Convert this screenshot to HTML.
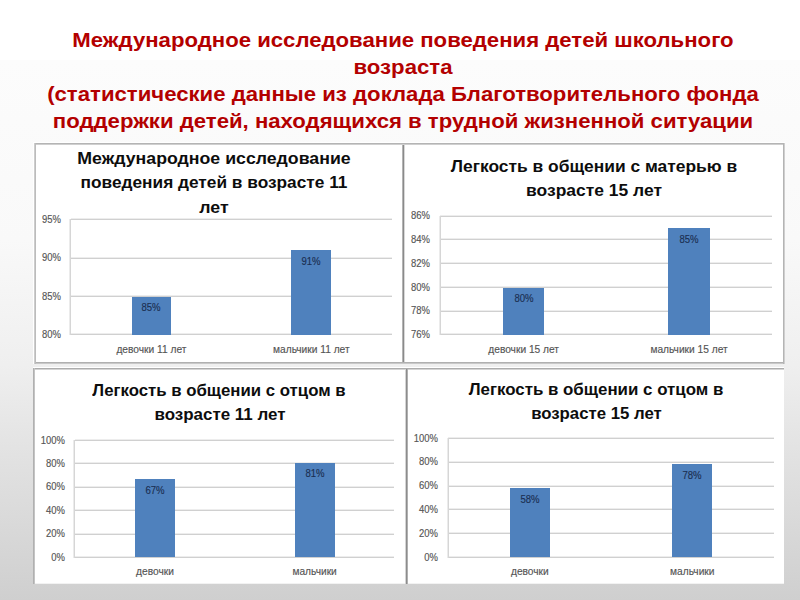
<!DOCTYPE html>
<html><head><meta charset="utf-8"><title>slide</title>
<style>
html,body{margin:0;padding:0;}
body{width:800px;height:600px;position:relative;overflow:hidden;background:linear-gradient(to bottom, #ffffff 0px, #ffffff 60px, #fcfcfc 60px, #f9f9f9 240px, #efefef 365px, #e4e4e4 440px, #cfcfcf 600px);font-family:"Liberation Sans", sans-serif;}
</style></head><body>
<div style="position:absolute;left:33.00px;top:142.00px;width:752.00px;height:222.00px;background:#fff;"></div>
<div style="position:absolute;left:33.00px;top:367.00px;width:751.00px;height:217.00px;background:#fff;"></div>
<div style="position:absolute;left:33.00px;top:583.00px;width:751.00px;height:1.00px;background:#f2f2f2;"></div>
<div style="position:absolute;left:34.00px;top:143.00px;width:751.00px;height:1.00px;background:#b4b4b4;"></div>
<div style="position:absolute;left:34.00px;top:144.00px;width:751.00px;height:1.00px;background:#cfcfcf;"></div>
<div style="position:absolute;left:34.00px;top:362.00px;width:751.00px;height:1.00px;background:#b0b0b0;"></div>
<div style="position:absolute;left:34.00px;top:363.00px;width:751.00px;height:1.00px;background:#c8c8c8;"></div>
<div style="position:absolute;left:34.00px;top:143.00px;width:1.00px;height:221.00px;background:#cdcdcd;"></div>
<div style="position:absolute;left:35.00px;top:143.00px;width:1.00px;height:221.00px;background:#bcbcbc;"></div>
<div style="position:absolute;left:783.00px;top:143.00px;width:1.00px;height:221.00px;background:#b4b4b4;"></div>
<div style="position:absolute;left:784.00px;top:143.00px;width:1.00px;height:221.00px;background:#cfcfcf;"></div>
<div style="position:absolute;left:402.00px;top:145.00px;width:1.00px;height:217.00px;background:#b4b4b4;"></div>
<div style="position:absolute;left:403.00px;top:145.00px;width:1.00px;height:217.00px;background:#8a8a8a;"></div>
<div style="position:absolute;left:404.00px;top:145.00px;width:1.00px;height:217.00px;background:#d8d8d8;"></div>
<div style="position:absolute;left:33.00px;top:368.00px;width:751.00px;height:1.00px;background:#acacac;"></div>
<div style="position:absolute;left:33.00px;top:369.00px;width:751.00px;height:1.00px;background:#d4d4d4;"></div>
<div style="position:absolute;left:33.00px;top:368.00px;width:1.00px;height:216.00px;background:#b0b0b0;"></div>
<div style="position:absolute;left:34.00px;top:368.00px;width:1.00px;height:216.00px;background:#c4c4c4;"></div>
<div style="position:absolute;left:405.00px;top:369.00px;width:1.00px;height:215.00px;background:#d4d4d4;"></div>
<div style="position:absolute;left:406.00px;top:369.00px;width:1.00px;height:215.00px;background:#8c8c8c;"></div>
<div style="position:absolute;left:407.00px;top:369.00px;width:1.00px;height:215.00px;background:#b0b0b0;"></div>
<div style="position:absolute;left:71.00px;top:219.00px;width:321.00px;height:1.00px;background:#d0d0d0;box-shadow:0 -1px 0 #ededed;"></div>
<div style="position:absolute;left:71.00px;top:258.00px;width:321.00px;height:1.00px;background:#d0d0d0;box-shadow:0 -1px 0 #ededed;"></div>
<div style="position:absolute;left:71.00px;top:296.00px;width:321.00px;height:1.00px;background:#d0d0d0;box-shadow:0 -1px 0 #ededed;"></div>
<div style="position:absolute;left:71.00px;top:334.00px;width:321.00px;height:1.00px;background:#d0d0d0;box-shadow:0 -1px 0 #ededed;"></div>
<div style="position:absolute;left:70.00px;top:219.00px;width:1.00px;height:116.00px;background:#d6d6d6;box-shadow:-1px 0 0 #ebebeb;"></div>
<div style="position:absolute;left:-739.30px;top:214.95px;width:800px;text-align:right;font-size:10.3px;line-height:10.3px;font-weight:normal;color:#555555;white-space:nowrap;transform:scaleX(0.92);transform-origin:100% 50%;-webkit-text-stroke:0.15px #555555;">95%</div>
<div style="position:absolute;left:-739.30px;top:253.38px;width:800px;text-align:right;font-size:10.3px;line-height:10.3px;font-weight:normal;color:#555555;white-space:nowrap;transform:scaleX(0.92);transform-origin:100% 50%;-webkit-text-stroke:0.15px #555555;">90%</div>
<div style="position:absolute;left:-739.30px;top:291.81px;width:800px;text-align:right;font-size:10.3px;line-height:10.3px;font-weight:normal;color:#555555;white-space:nowrap;transform:scaleX(0.92);transform-origin:100% 50%;-webkit-text-stroke:0.15px #555555;">85%</div>
<div style="position:absolute;left:-739.30px;top:330.25px;width:800px;text-align:right;font-size:10.3px;line-height:10.3px;font-weight:normal;color:#555555;white-space:nowrap;transform:scaleX(0.92);transform-origin:100% 50%;-webkit-text-stroke:0.15px #555555;">80%</div>
<div style="position:absolute;left:131.50px;top:296.50px;width:39.80px;height:38.50px;background:#4f81bd;"></div>
<div style="position:absolute;left:-248.60px;top:303.49px;width:800px;text-align:center;font-size:10.3px;line-height:10.3px;font-weight:normal;color:#1b2f52;white-space:nowrap;transform:scaleX(0.93);transform-origin:50% 50%;-webkit-text-stroke:0.15px #1b2f52;">85%</div>
<div style="position:absolute;left:-248.60px;top:344.87px;width:800px;text-align:center;font-size:10.2px;line-height:10.2px;font-weight:normal;color:#555555;white-space:nowrap;-webkit-text-stroke:0.15px #555555;">девочки 11 лет</div>
<div style="position:absolute;left:291.30px;top:250.40px;width:40.00px;height:84.60px;background:#4f81bd;"></div>
<div style="position:absolute;left:-88.70px;top:257.39px;width:800px;text-align:center;font-size:10.3px;line-height:10.3px;font-weight:normal;color:#1b2f52;white-space:nowrap;transform:scaleX(0.93);transform-origin:50% 50%;-webkit-text-stroke:0.15px #1b2f52;">91%</div>
<div style="position:absolute;left:-88.70px;top:344.87px;width:800px;text-align:center;font-size:10.2px;line-height:10.2px;font-weight:normal;color:#555555;white-space:nowrap;-webkit-text-stroke:0.15px #555555;">мальчики 11 лет</div>
<div style="position:absolute;left:440.40px;top:216.00px;width:331.70px;height:1.00px;background:#d0d0d0;box-shadow:0 -1px 0 #ededed;"></div>
<div style="position:absolute;left:440.40px;top:239.00px;width:331.70px;height:1.00px;background:#d0d0d0;box-shadow:0 -1px 0 #ededed;"></div>
<div style="position:absolute;left:440.40px;top:263.00px;width:331.70px;height:1.00px;background:#d0d0d0;box-shadow:0 -1px 0 #ededed;"></div>
<div style="position:absolute;left:440.40px;top:287.00px;width:331.70px;height:1.00px;background:#d0d0d0;box-shadow:0 -1px 0 #ededed;"></div>
<div style="position:absolute;left:440.40px;top:311.00px;width:331.70px;height:1.00px;background:#d0d0d0;box-shadow:0 -1px 0 #ededed;"></div>
<div style="position:absolute;left:440.40px;top:334.00px;width:331.70px;height:1.00px;background:#d0d0d0;box-shadow:0 -1px 0 #ededed;"></div>
<div style="position:absolute;left:440.00px;top:216.00px;width:1.00px;height:119.00px;background:#d6d6d6;box-shadow:-1px 0 0 #ebebeb;"></div>
<div style="position:absolute;left:-369.70px;top:211.25px;width:800px;text-align:right;font-size:10.3px;line-height:10.3px;font-weight:normal;color:#555555;white-space:nowrap;transform:scaleX(0.92);transform-origin:100% 50%;-webkit-text-stroke:0.15px #555555;">86%</div>
<div style="position:absolute;left:-369.70px;top:235.01px;width:800px;text-align:right;font-size:10.3px;line-height:10.3px;font-weight:normal;color:#555555;white-space:nowrap;transform:scaleX(0.92);transform-origin:100% 50%;-webkit-text-stroke:0.15px #555555;">84%</div>
<div style="position:absolute;left:-369.70px;top:258.77px;width:800px;text-align:right;font-size:10.3px;line-height:10.3px;font-weight:normal;color:#555555;white-space:nowrap;transform:scaleX(0.92);transform-origin:100% 50%;-webkit-text-stroke:0.15px #555555;">82%</div>
<div style="position:absolute;left:-369.70px;top:282.53px;width:800px;text-align:right;font-size:10.3px;line-height:10.3px;font-weight:normal;color:#555555;white-space:nowrap;transform:scaleX(0.92);transform-origin:100% 50%;-webkit-text-stroke:0.15px #555555;">80%</div>
<div style="position:absolute;left:-369.70px;top:306.29px;width:800px;text-align:right;font-size:10.3px;line-height:10.3px;font-weight:normal;color:#555555;white-space:nowrap;transform:scaleX(0.92);transform-origin:100% 50%;-webkit-text-stroke:0.15px #555555;">78%</div>
<div style="position:absolute;left:-369.70px;top:330.05px;width:800px;text-align:right;font-size:10.3px;line-height:10.3px;font-weight:normal;color:#555555;white-space:nowrap;transform:scaleX(0.92);transform-origin:100% 50%;-webkit-text-stroke:0.15px #555555;">76%</div>
<div style="position:absolute;left:503.40px;top:287.50px;width:40.50px;height:47.30px;background:#4f81bd;"></div>
<div style="position:absolute;left:123.65px;top:294.49px;width:800px;text-align:center;font-size:10.3px;line-height:10.3px;font-weight:normal;color:#1b2f52;white-space:nowrap;transform:scaleX(0.93);transform-origin:50% 50%;-webkit-text-stroke:0.15px #1b2f52;">80%</div>
<div style="position:absolute;left:123.65px;top:344.87px;width:800px;text-align:center;font-size:10.2px;line-height:10.2px;font-weight:normal;color:#555555;white-space:nowrap;-webkit-text-stroke:0.15px #555555;">девочки 15 лет</div>
<div style="position:absolute;left:668.40px;top:227.80px;width:41.30px;height:107.00px;background:#4f81bd;"></div>
<div style="position:absolute;left:289.05px;top:234.79px;width:800px;text-align:center;font-size:10.3px;line-height:10.3px;font-weight:normal;color:#1b2f52;white-space:nowrap;transform:scaleX(0.93);transform-origin:50% 50%;-webkit-text-stroke:0.15px #1b2f52;">85%</div>
<div style="position:absolute;left:289.05px;top:344.87px;width:800px;text-align:center;font-size:10.2px;line-height:10.2px;font-weight:normal;color:#555555;white-space:nowrap;-webkit-text-stroke:0.15px #555555;">мальчики 15 лет</div>
<div style="position:absolute;left:74.50px;top:440.00px;width:319.70px;height:1.00px;background:#d0d0d0;box-shadow:0 -1px 0 #ededed;"></div>
<div style="position:absolute;left:74.50px;top:463.00px;width:319.70px;height:1.00px;background:#d0d0d0;box-shadow:0 -1px 0 #ededed;"></div>
<div style="position:absolute;left:74.50px;top:487.00px;width:319.70px;height:1.00px;background:#d0d0d0;box-shadow:0 -1px 0 #ededed;"></div>
<div style="position:absolute;left:74.50px;top:510.00px;width:319.70px;height:1.00px;background:#d0d0d0;box-shadow:0 -1px 0 #ededed;"></div>
<div style="position:absolute;left:74.50px;top:534.00px;width:319.70px;height:1.00px;background:#d0d0d0;box-shadow:0 -1px 0 #ededed;"></div>
<div style="position:absolute;left:74.50px;top:557.00px;width:319.70px;height:1.00px;background:#d0d0d0;box-shadow:0 -1px 0 #ededed;"></div>
<div style="position:absolute;left:74.00px;top:440.00px;width:1.00px;height:118.00px;background:#d6d6d6;box-shadow:-1px 0 0 #ebebeb;"></div>
<div style="position:absolute;left:-735.20px;top:435.65px;width:800px;text-align:right;font-size:10.3px;line-height:10.3px;font-weight:normal;color:#555555;white-space:nowrap;transform:scaleX(0.92);transform-origin:100% 50%;-webkit-text-stroke:0.15px #555555;">100%</div>
<div style="position:absolute;left:-735.20px;top:459.05px;width:800px;text-align:right;font-size:10.3px;line-height:10.3px;font-weight:normal;color:#555555;white-space:nowrap;transform:scaleX(0.92);transform-origin:100% 50%;-webkit-text-stroke:0.15px #555555;">80%</div>
<div style="position:absolute;left:-735.20px;top:482.45px;width:800px;text-align:right;font-size:10.3px;line-height:10.3px;font-weight:normal;color:#555555;white-space:nowrap;transform:scaleX(0.92);transform-origin:100% 50%;-webkit-text-stroke:0.15px #555555;">60%</div>
<div style="position:absolute;left:-735.20px;top:505.85px;width:800px;text-align:right;font-size:10.3px;line-height:10.3px;font-weight:normal;color:#555555;white-space:nowrap;transform:scaleX(0.92);transform-origin:100% 50%;-webkit-text-stroke:0.15px #555555;">40%</div>
<div style="position:absolute;left:-735.20px;top:529.25px;width:800px;text-align:right;font-size:10.3px;line-height:10.3px;font-weight:normal;color:#555555;white-space:nowrap;transform:scaleX(0.92);transform-origin:100% 50%;-webkit-text-stroke:0.15px #555555;">20%</div>
<div style="position:absolute;left:-735.20px;top:552.65px;width:800px;text-align:right;font-size:10.3px;line-height:10.3px;font-weight:normal;color:#555555;white-space:nowrap;transform:scaleX(0.92);transform-origin:100% 50%;-webkit-text-stroke:0.15px #555555;">0%</div>
<div style="position:absolute;left:135.10px;top:479.00px;width:39.70px;height:78.40px;background:#4f81bd;"></div>
<div style="position:absolute;left:-245.05px;top:485.99px;width:800px;text-align:center;font-size:10.3px;line-height:10.3px;font-weight:normal;color:#1b2f52;white-space:nowrap;transform:scaleX(0.93);transform-origin:50% 50%;-webkit-text-stroke:0.15px #1b2f52;">67%</div>
<div style="position:absolute;left:-245.05px;top:566.87px;width:800px;text-align:center;font-size:10.2px;line-height:10.2px;font-weight:normal;color:#555555;white-space:nowrap;-webkit-text-stroke:0.15px #555555;">девочки</div>
<div style="position:absolute;left:294.50px;top:462.50px;width:40.20px;height:94.90px;background:#4f81bd;"></div>
<div style="position:absolute;left:-85.40px;top:469.49px;width:800px;text-align:center;font-size:10.3px;line-height:10.3px;font-weight:normal;color:#1b2f52;white-space:nowrap;transform:scaleX(0.93);transform-origin:50% 50%;-webkit-text-stroke:0.15px #1b2f52;">81%</div>
<div style="position:absolute;left:-85.40px;top:566.87px;width:800px;text-align:center;font-size:10.2px;line-height:10.2px;font-weight:normal;color:#555555;white-space:nowrap;-webkit-text-stroke:0.15px #555555;">мальчики</div>
<div style="position:absolute;left:448.20px;top:438.00px;width:325.40px;height:1.00px;background:#d0d0d0;box-shadow:0 -1px 0 #ededed;"></div>
<div style="position:absolute;left:448.20px;top:462.00px;width:325.40px;height:1.00px;background:#d0d0d0;box-shadow:0 -1px 0 #ededed;"></div>
<div style="position:absolute;left:448.20px;top:486.00px;width:325.40px;height:1.00px;background:#d0d0d0;box-shadow:0 -1px 0 #ededed;"></div>
<div style="position:absolute;left:448.20px;top:509.00px;width:325.40px;height:1.00px;background:#d0d0d0;box-shadow:0 -1px 0 #ededed;"></div>
<div style="position:absolute;left:448.20px;top:533.00px;width:325.40px;height:1.00px;background:#d0d0d0;box-shadow:0 -1px 0 #ededed;"></div>
<div style="position:absolute;left:448.20px;top:557.00px;width:325.40px;height:1.00px;background:#d0d0d0;box-shadow:0 -1px 0 #ededed;"></div>
<div style="position:absolute;left:448.00px;top:438.00px;width:1.00px;height:120.00px;background:#d6d6d6;box-shadow:-1px 0 0 #ebebeb;"></div>
<div style="position:absolute;left:-361.80px;top:433.65px;width:800px;text-align:right;font-size:10.3px;line-height:10.3px;font-weight:normal;color:#555555;white-space:nowrap;transform:scaleX(0.92);transform-origin:100% 50%;-webkit-text-stroke:0.15px #555555;">100%</div>
<div style="position:absolute;left:-361.80px;top:457.45px;width:800px;text-align:right;font-size:10.3px;line-height:10.3px;font-weight:normal;color:#555555;white-space:nowrap;transform:scaleX(0.92);transform-origin:100% 50%;-webkit-text-stroke:0.15px #555555;">80%</div>
<div style="position:absolute;left:-361.80px;top:481.25px;width:800px;text-align:right;font-size:10.3px;line-height:10.3px;font-weight:normal;color:#555555;white-space:nowrap;transform:scaleX(0.92);transform-origin:100% 50%;-webkit-text-stroke:0.15px #555555;">60%</div>
<div style="position:absolute;left:-361.80px;top:505.05px;width:800px;text-align:right;font-size:10.3px;line-height:10.3px;font-weight:normal;color:#555555;white-space:nowrap;transform:scaleX(0.92);transform-origin:100% 50%;-webkit-text-stroke:0.15px #555555;">40%</div>
<div style="position:absolute;left:-361.80px;top:528.85px;width:800px;text-align:right;font-size:10.3px;line-height:10.3px;font-weight:normal;color:#555555;white-space:nowrap;transform:scaleX(0.92);transform-origin:100% 50%;-webkit-text-stroke:0.15px #555555;">20%</div>
<div style="position:absolute;left:-361.80px;top:552.65px;width:800px;text-align:right;font-size:10.3px;line-height:10.3px;font-weight:normal;color:#555555;white-space:nowrap;transform:scaleX(0.92);transform-origin:100% 50%;-webkit-text-stroke:0.15px #555555;">0%</div>
<div style="position:absolute;left:509.60px;top:488.00px;width:40.50px;height:69.40px;background:#4f81bd;"></div>
<div style="position:absolute;left:129.85px;top:494.99px;width:800px;text-align:center;font-size:10.3px;line-height:10.3px;font-weight:normal;color:#1b2f52;white-space:nowrap;transform:scaleX(0.93);transform-origin:50% 50%;-webkit-text-stroke:0.15px #1b2f52;">58%</div>
<div style="position:absolute;left:129.85px;top:566.87px;width:800px;text-align:center;font-size:10.2px;line-height:10.2px;font-weight:normal;color:#555555;white-space:nowrap;-webkit-text-stroke:0.15px #555555;">девочки</div>
<div style="position:absolute;left:672.20px;top:464.20px;width:40.20px;height:93.20px;background:#4f81bd;"></div>
<div style="position:absolute;left:292.30px;top:471.19px;width:800px;text-align:center;font-size:10.3px;line-height:10.3px;font-weight:normal;color:#1b2f52;white-space:nowrap;transform:scaleX(0.93);transform-origin:50% 50%;-webkit-text-stroke:0.15px #1b2f52;">78%</div>
<div style="position:absolute;left:292.30px;top:566.87px;width:800px;text-align:center;font-size:10.2px;line-height:10.2px;font-weight:normal;color:#555555;white-space:nowrap;-webkit-text-stroke:0.15px #555555;">мальчики</div>
<div style="position:absolute;left:-185.60px;top:150.17px;width:800px;text-align:center;font-size:17.4px;line-height:17.4px;font-weight:bold;color:#0d0d0d;white-space:nowrap;transform:scaleX(1.019);transform-origin:50% 50%;">Международное исследование</div>
<div style="position:absolute;left:-185.60px;top:174.37px;width:800px;text-align:center;font-size:17.4px;line-height:17.4px;font-weight:bold;color:#0d0d0d;white-space:nowrap;transform:scaleX(0.993);transform-origin:50% 50%;">поведения детей в возрасте 11</div>
<div style="position:absolute;left:-185.60px;top:199.07px;width:800px;text-align:center;font-size:17.4px;line-height:17.4px;font-weight:bold;color:#0d0d0d;white-space:nowrap;transform:scaleX(1.02);transform-origin:50% 50%;">лет</div>
<div style="position:absolute;left:193.50px;top:157.64px;width:800px;text-align:center;font-size:17.2px;line-height:17.2px;font-weight:bold;color:#0d0d0d;white-space:nowrap;transform:scaleX(1.012);transform-origin:50% 50%;">Легкость в общении с матерью в</div>
<div style="position:absolute;left:194.30px;top:182.24px;width:800px;text-align:center;font-size:17.2px;line-height:17.2px;font-weight:bold;color:#0d0d0d;white-space:nowrap;transform:scaleX(1.015);transform-origin:50% 50%;">возрасте 15 лет</div>
<div style="position:absolute;left:-180.80px;top:382.66px;width:800px;text-align:center;font-size:16.7px;line-height:16.7px;font-weight:bold;color:#0d0d0d;white-space:nowrap;transform:scaleX(1.006);transform-origin:50% 50%;">Легкость в общении с отцом в</div>
<div style="position:absolute;left:-180.00px;top:407.46px;width:800px;text-align:center;font-size:16.7px;line-height:16.7px;font-weight:bold;color:#0d0d0d;white-space:nowrap;transform:scaleX(1.016);transform-origin:50% 50%;">возрасте 11 лет</div>
<div style="position:absolute;left:195.90px;top:381.78px;width:800px;text-align:center;font-size:16.8px;line-height:16.8px;font-weight:bold;color:#0d0d0d;white-space:nowrap;transform:scaleX(1.006);transform-origin:50% 50%;">Легкость в общении с отцом в</div>
<div style="position:absolute;left:196.50px;top:405.78px;width:800px;text-align:center;font-size:16.8px;line-height:16.8px;font-weight:bold;color:#0d0d0d;white-space:nowrap;">возрасте 15 лет</div>
<div style="position:absolute;left:2.80px;top:29.22px;width:800px;text-align:center;font-size:21px;line-height:21px;font-weight:bold;color:#b30000;white-space:nowrap;transform:scaleX(1.055);transform-origin:50% 50%;">Международное исследование поведения детей школьного</div>
<div style="position:absolute;left:2.80px;top:56.12px;width:800px;text-align:center;font-size:21px;line-height:21px;font-weight:bold;color:#b30000;white-space:nowrap;transform:scaleX(1.055);transform-origin:50% 50%;">возраста</div>
<div style="position:absolute;left:2.80px;top:83.12px;width:800px;text-align:center;font-size:21px;line-height:21px;font-weight:bold;color:#b30000;white-space:nowrap;transform:scaleX(1.055);transform-origin:50% 50%;">(статистические данные из доклада Благотворительного фонда</div>
<div style="position:absolute;left:2.80px;top:110.02px;width:800px;text-align:center;font-size:21px;line-height:21px;font-weight:bold;color:#b30000;white-space:nowrap;transform:scaleX(1.055);transform-origin:50% 50%;">поддержки детей, находящихся в трудной жизненной ситуации</div>
</body></html>
